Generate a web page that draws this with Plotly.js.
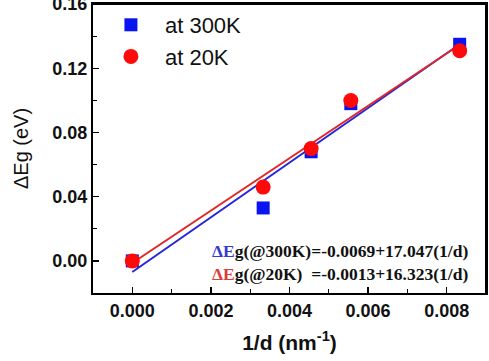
<!DOCTYPE html>
<html>
<head>
<meta charset="utf-8">
<script src="https://cdn.plot.ly/plotly-3.0.1.min.js"></script>
<style>html,body{margin:0;padding:0;background:#fff;overflow:hidden;}#chart{width:489px;height:361px;}</style>
</head>
<body>
<div id="chart"></div>
<script>
// Data
const invD = [0, 0.00333, 0.00455, 0.00556, 0.00833];
const dEg300K = [0, 0.033, 0.068, 0.098, 0.135];
const dEg20K = [0, 0.046, 0.070, 0.100, 0.131];
const fitX = [0, 0.00833];
const fit300K = [-0.0069, 0.135];
const fit20K = [-0.0013, 0.1347];
const legendNames = ["at 300K", "at 20K"];
const eq300 = "g(@300K)=-0.0069+17.047(1/d)";
const eq20 = "g(@20K)\u00a0\u00a0=-0.0013+16.323(1/d)";

const traces = [
  {x: fitX, y: fit300K, mode: 'lines', line: {color: '#2626d9', width: 2}, showlegend: false, hoverinfo: 'skip'},
  {x: fitX, y: fit20K, mode: 'lines', line: {color: '#e02626', width: 2}, showlegend: false, hoverinfo: 'skip'},
  {x: invD, y: dEg300K, mode: 'markers', name: legendNames[0], marker: {symbol: 'square', color: '#0a14f0', size: 13}},
  {x: invD, y: dEg20K, mode: 'markers', name: legendNames[1], marker: {symbol: 'circle', color: '#ff0a0a', size: 15}}
];

function axisBase() {
  return {
    showgrid: false, zeroline: false, showline: true, linecolor: '#000', linewidth: 2,
    mirror: true, ticks: 'inside', ticklen: 6, tickwidth: 1.5, tickcolor: '#000',
    ticklabeloverflow: 'allow',
    tickfont: {family: 'Liberation Sans, Arial, sans-serif', size: 18, color: '#111', weight: 'bold'}
  };
}

const xaxis = axisBase();
Object.assign(xaxis, {
  range: [-0.001, 0.009], dtick: 0.002, tick0: 0, tickformat: '.3f',
  minor: {dtick: 0.001, ticks: 'inside', ticklen: 4, tickwidth: 1.2, tickcolor: '#000'},
  title: {text: '1/d (nm<sup>-1</sup>)', standoff: 16,
          font: {family: 'Liberation Sans, Arial, sans-serif', size: 21, color: '#111', weight: 'bold'}}
});
const yaxis = axisBase();
Object.assign(yaxis, {
  range: [-0.02, 0.1601], dtick: 0.04, tick0: 0, tickformat: '.2f',
  minor: {dtick: 0.02, ticks: 'inside', ticklen: 4, tickwidth: 1.2, tickcolor: '#000'},
  title: {text: '\u0394Eg (eV)', standoff: 18,
          font: {family: 'Liberation Sans, Arial, sans-serif', size: 20, color: '#111'}}
});

const layout = {
  width: 489, height: 361,
  margin: {l: 93, r: 3, t: 4, b: 68},
  paper_bgcolor: '#fff', plot_bgcolor: '#fff',
  showlegend: true,
  legend: {x: 0.01, y: 1.0, xanchor: 'left', yanchor: 'top', bgcolor: 'rgba(0,0,0,0)', itemwidth: 58,
           font: {family: 'Liberation Sans, Arial, sans-serif', size: 22, color: '#111'}},
  xaxis: xaxis,
  yaxis: yaxis,
  shapes: [
    {type: 'line', xref: 'paper', yref: 'paper', x0: 0, x1: 1, y0: 1, y1: 1, line: {color: '#000', width: 2}, layer: 'above'},
    {type: 'line', xref: 'paper', yref: 'paper', x0: 1, x1: 1, y0: 0, y1: 1, line: {color: '#000', width: 2}, layer: 'above'}
  ],
  annotations: [
    {xref: 'paper', yref: 'paper', x: 0.298, y: 0.144, xanchor: 'left', yanchor: 'middle', showarrow: false,
     text: "<span style='color:#3a3ad0'>\u0394E</span>" + eq300,
     font: {family: 'Liberation Serif, Times New Roman, serif', size: 17.5, color: '#111', weight: 'bold'}},
    {xref: 'paper', yref: 'paper', x: 0.298, y: 0.065, xanchor: 'left', yanchor: 'middle', showarrow: false,
     text: "<span style='color:#e03a3a'>\u0394E</span>" + eq20,
     font: {family: 'Liberation Serif, Times New Roman, serif', size: 17.5, color: '#111', weight: 'bold'}}
  ]
};

Plotly.newPlot('chart', traces, layout, {displayModeBar: false, staticPlot: true});
</script>
</body>
</html>
